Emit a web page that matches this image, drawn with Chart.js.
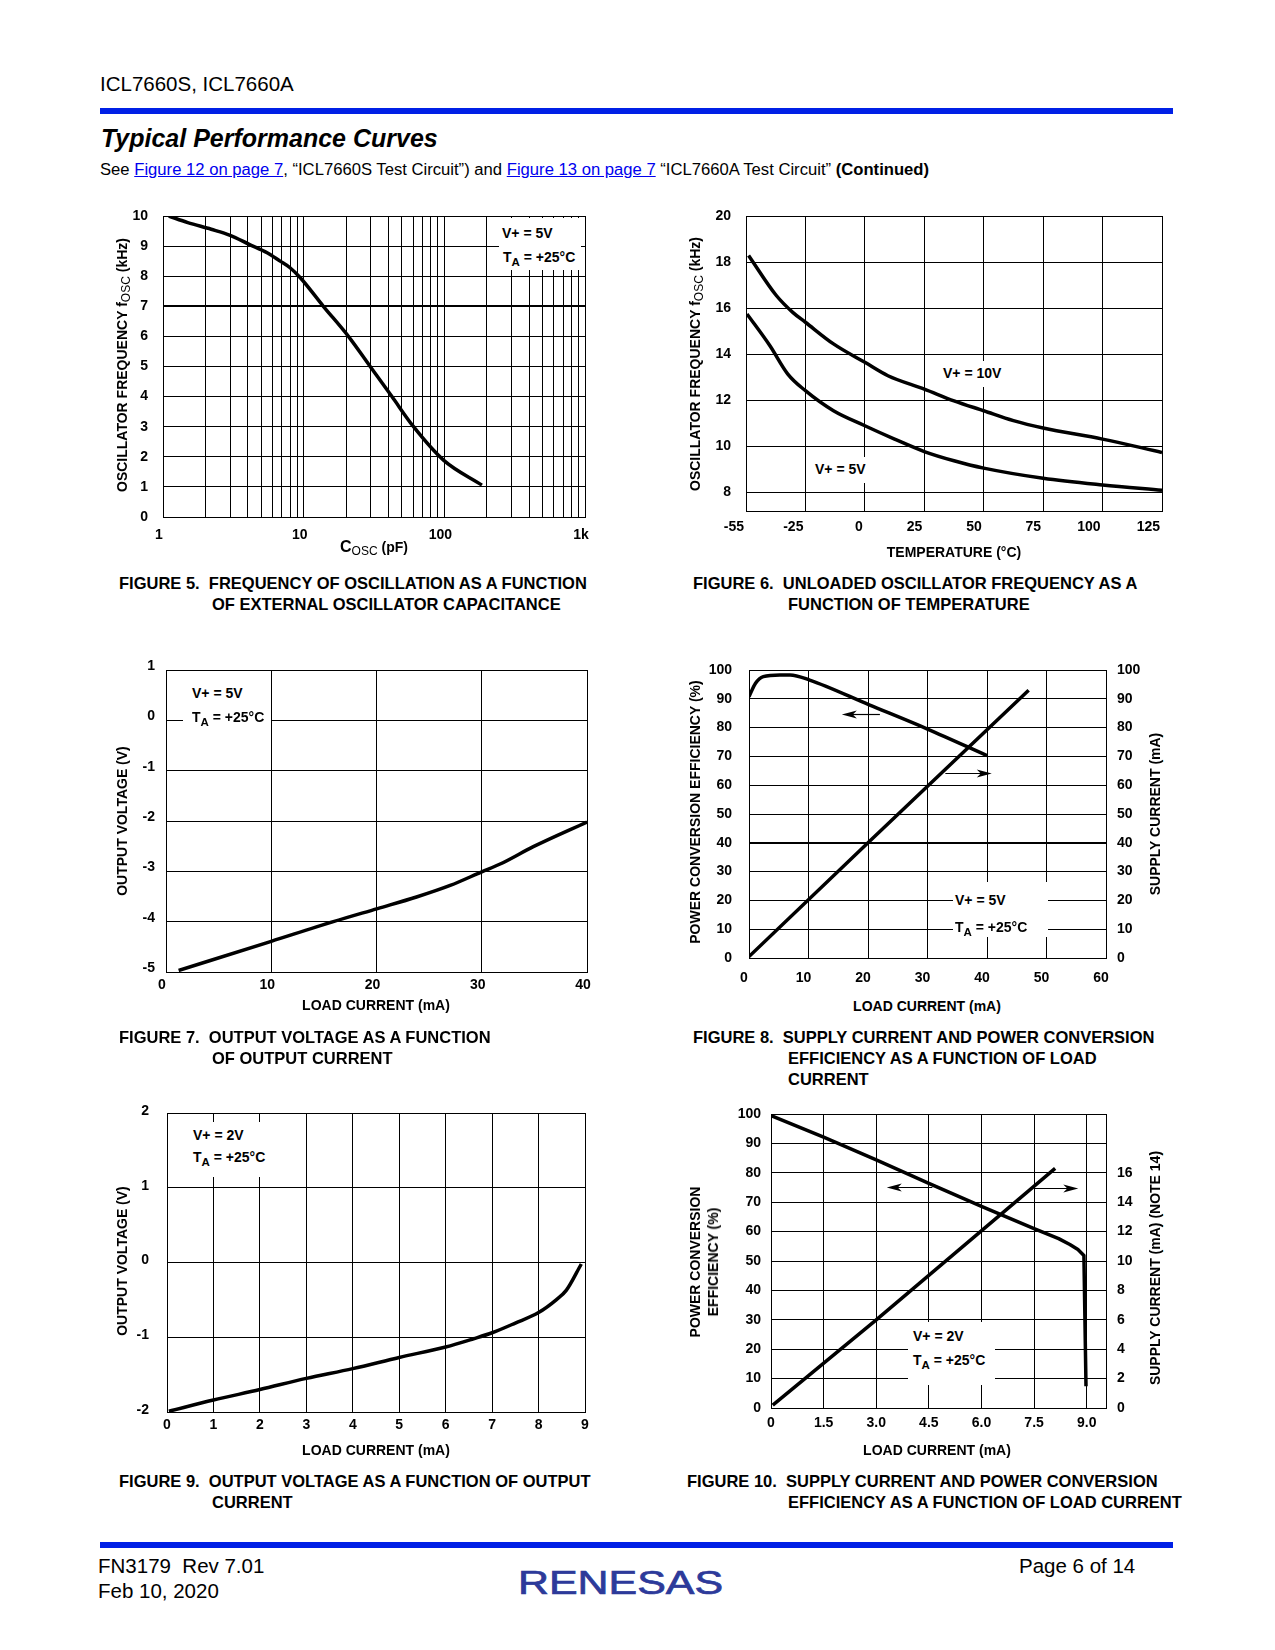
<!DOCTYPE html>
<html>
<head>
<meta charset="utf-8">
<title>ICL7660S, ICL7660A - Typical Performance Curves</title>
<script src="https://cdn.jsdelivr.net/npm/chart.js"></script>
<style>
  body { margin: 0; background: #fff; color: #000; font-family: "Liberation Sans", Arial, sans-serif; }
  #page { position: relative; width: 1275px; height: 1650px; overflow: hidden; }
  canvas { position: absolute; }
  .t { position: absolute; white-space: nowrap; transform: translateY(-50%); }
  .m { position: absolute; white-space: nowrap; transform: translate(-50%, -50%); }
  .v { position: absolute; white-space: nowrap; transform: translate(-50%, -50%) rotate(-90deg); }
  .b { font-weight: bold; font-size: 14px; }
  .cap { font-weight: bold; font-size: 16.5px; }
  .bar { position: absolute; left: 100px; width: 1073px; height: 6px; background: #0020e6; }
  .note { position: absolute; background: #fff; }
  .sb { font-size: 11.5px; position: relative; top: 4px; }
  .so { font-size: 12px; font-weight: normal; position: relative; top: 3px; }
  .a { color: #0000ee; }
  .logo { font-size: 33px; color: #2d3a9a; -webkit-text-stroke: 0.7px #2d3a9a;
          transform: translateY(-50%) scaleX(1.3); transform-origin: left center; }
</style>
</head>
<body>
<div id="page">
  <div class="t" style="left:100px;top:84px;font-size:20.5px">ICL7660S, ICL7660A</div>
  <div class="bar" style="top:108px"></div>
  <div class="t" style="left:101px;top:138px;font-size:25px;font-weight:bold;font-style:italic">Typical Performance Curves</div>
  <div class="t" style="left:100px;top:170px;font-size:16.65px">See <u class="a">Figure 12 on page 7</u>, “ICL7660S Test Circuit”) and <u class="a">Figure 13 on page 7</u> “ICL7660A Test Circuit” <b>(Continued)</b></div>

  <canvas id="fig5"></canvas>
  <canvas id="fig6"></canvas>
  <canvas id="fig7"></canvas>
  <canvas id="fig8"></canvas>
  <canvas id="fig9"></canvas>
  <canvas id="fig10"></canvas>

  <!-- figure 5 -->
  <div class="v b" style="left:122px;top:365px">OSCILLATOR FREQUENCY f<span class="so">OSC</span> (kHz)</div>
  <div class="m b" style="left:374px;top:547px"><span style="font-size:16px">C</span><span class="so">OSC</span> (pF)</div>
  <div class="note" style="left:499px;top:218px;width:82px;height:52px"></div>
  <div class="t b" style="left:502px;top:233px">V+ = 5V</div>
  <div class="t b" style="left:503px;top:257px">T<span class="sb">A</span> = +25°C</div>
  <div class="t cap" style="left:119px;top:583px">FIGURE 5.&nbsp; FREQUENCY OF OSCILLATION AS A FUNCTION</div>
  <div class="t cap" style="left:212px;top:604px">OF EXTERNAL OSCILLATOR CAPACITANCE</div>

  <!-- figure 6 -->
  <div class="v b" style="left:695px;top:364px">OSCILLATOR FREQUENCY f<span class="so">OSC</span> (kHz)</div>
  <div class="m b" style="left:954px;top:552px">TEMPERATURE (°C)</div>
  <div class="note" style="left:938px;top:361px;width:70px;height:26px"></div>
  <div class="t b" style="left:943px;top:373px">V+ = 10V</div>
  <div class="note" style="left:810px;top:457px;width:60px;height:26px"></div>
  <div class="t b" style="left:815px;top:469px">V+ = 5V</div>
  <div class="t cap" style="left:693px;top:583px">FIGURE 6.&nbsp; UNLOADED OSCILLATOR FREQUENCY AS A</div>
  <div class="t cap" style="left:788px;top:604px">FUNCTION OF TEMPERATURE</div>

  <!-- figure 7 -->
  <div class="v b" style="left:122px;top:821px">OUTPUT VOLTAGE (V)</div>
  <div class="m b" style="left:376px;top:1005px">LOAD CURRENT (mA)</div>
  <div class="note" style="left:183px;top:676px;width:88px;height:50px"></div>
  <div class="t b" style="left:192px;top:693px">V+ = 5V</div>
  <div class="t b" style="left:192px;top:717px">T<span class="sb">A</span> = +25°C</div>
  <div class="t cap" style="left:119px;top:1037px">FIGURE 7.&nbsp; OUTPUT VOLTAGE AS A FUNCTION</div>
  <div class="t cap" style="left:212px;top:1058px">OF OUTPUT CURRENT</div>

  <!-- figure 8 -->
  <div class="v b" style="left:695px;top:812px">POWER CONVERSION EFFICIENCY (%)</div>
  <div class="v b" style="left:1155px;top:814px">SUPPLY CURRENT (mA)</div>
  <div class="m b" style="left:927px;top:1006px">LOAD CURRENT (mA)</div>
  <div class="note" style="left:953px;top:882px;width:95px;height:55px"></div>
  <div class="t b" style="left:955px;top:900px">V+ = 5V</div>
  <div class="t b" style="left:955px;top:927px">T<span class="sb">A</span> = +25°C</div>
  <div class="t cap" style="left:693px;top:1037px">FIGURE 8.&nbsp; SUPPLY CURRENT AND POWER CONVERSION</div>
  <div class="t cap" style="left:788px;top:1058px">EFFICIENCY AS A FUNCTION OF LOAD</div>
  <div class="t cap" style="left:788px;top:1079px">CURRENT</div>

  <!-- figure 9 -->
  <div class="v b" style="left:122px;top:1261px">OUTPUT VOLTAGE (V)</div>
  <div class="m b" style="left:376px;top:1450px">LOAD CURRENT (mA)</div>
  <div class="note" style="left:183px;top:1122px;width:89px;height:55px"></div>
  <div class="t b" style="left:193px;top:1135px">V+ = 2V</div>
  <div class="t b" style="left:193px;top:1157px">T<span class="sb">A</span> = +25°C</div>
  <div class="t cap" style="left:119px;top:1481px">FIGURE 9.&nbsp; OUTPUT VOLTAGE AS A FUNCTION OF OUTPUT</div>
  <div class="t cap" style="left:212px;top:1502px">CURRENT</div>

  <!-- figure 10 -->
  <div class="v b" style="left:695px;top:1262px">POWER CONVERSION</div>
  <div class="v b" style="left:713px;top:1262px">EFFICIENCY (%)</div>
  <div class="v b" style="left:1155px;top:1268px">SUPPLY CURRENT (mA) (NOTE 14)</div>
  <div class="m b" style="left:937px;top:1450px">LOAD CURRENT (mA)</div>
  <div class="note" style="left:908px;top:1322px;width:87px;height:63px"></div>
  <div class="t b" style="left:913px;top:1336px">V+ = 2V</div>
  <div class="t b" style="left:913px;top:1360px">T<span class="sb">A</span> = +25°C</div>
  <div class="t cap" style="left:687px;top:1481px">FIGURE 10.&nbsp; SUPPLY CURRENT AND POWER CONVERSION</div>
  <div class="t cap" style="left:788px;top:1502px">EFFICIENCY AS A FUNCTION OF LOAD CURRENT</div>

  <div class="bar" style="top:1542px"></div>
  <div class="t" style="left:98px;top:1566px;font-size:20.5px">FN3179&nbsp; Rev 7.01</div>
  <div class="t" style="left:98px;top:1591px;font-size:20.5px">Feb 10, 2020</div>
  <div class="t" style="left:1019px;top:1566px;font-size:20.5px">Page 6 of 14</div>
  <div class="t logo" style="left:518px;top:1583px">RENESAS</div>
</div>

<script>
// Figure 5: oscillator frequency vs external capacitance
const fig5Cap = [1.1, 1.5, 2.2, 3.0, 4.1, 5.5, 6.8, 8.0, 9.5, 13.8, 20.8, 29.7, 42.4, 60.4, 98.6, 185];
const fig5Freq = [10.0, 9.78, 9.56, 9.36, 9.06, 8.78, 8.5, 8.28, 7.94, 7.0, 6.0, 5.0, 4.0, 3.0, 1.89, 1.06];
const fig5XTicks = [1, 2, 3, 4, 5, 6, 7, 8, 9, 10, 20, 30, 40, 50, 60, 70, 80, 90,
                    100, 200, 300, 400, 500, 600, 700, 800, 900, 1000];
const fig5XMajor = [1, 10, 100, 1000];
const fig5XLabels = ['1', '10', '100', '1k'];
const fig5YTicks = [0, 1, 2, 3, 4, 5, 6, 7, 8, 9, 10];

// Figure 6: oscillator frequency vs temperature
const fig6TempTicks = [-55, -25, 0, 25, 50, 75, 100, 125];
const fig6YTicks = [8, 10, 12, 14, 16, 18, 20];
const fig6Temp10V = [-53.7, -39.7, -31.4, -25, -13.2, 0, 9.7, 25, 37.5, 50, 62.5, 75, 100, 125];
const fig6Freq10V = [18.29, 16.55, 15.82, 15.39, 14.45, 13.65, 13.07, 12.49, 11.98, 11.55, 11.12, 10.80, 10.32, 9.74];
const fig6Temp5V = [-54.5, -43, -33.9, -25, -13.2, 0, 12.5, 25, 37.5, 50, 75, 100, 125];
const fig6Freq5V = [15.75, 14.38, 13.14, 12.42, 11.55, 10.9, 10.32, 9.78, 9.38, 9.06, 8.62, 8.33, 8.10];

// Figure 7: output voltage vs output current (V+ = 5V)
const fig7Load = [1.2, 10, 15.9, 20.1, 23.8, 27, 30, 31.8, 34.9, 40];
const fig7Vout = [-4.97, -4.39, -4.0, -3.74, -3.51, -3.28, -3.01, -2.85, -2.51, -2.02];
const fig7XTicks = [0, 10, 20, 30, 40];
const fig7YTicks = [-5, -4, -3, -2, -1, 0, 1];

// Figure 8: efficiency and supply current vs load (V+ = 5V)
const fig8EffLoad = [0, 1.1, 2.4, 5.2, 6.9, 10.2, 20.2, 30, 40];
const fig8Eff = [90.75, 95.4, 97.7, 98.3, 98.3, 96.5, 87.9, 79.5, 70.3];
const fig8SupLoad = [0, 20, 47];
const fig8Supply = [0.5, 40, 93];
const fig8XTicks = [0, 10, 20, 30, 40, 50, 60];
const fig8YTicks = [0, 10, 20, 30, 40, 50, 60, 70, 80, 90, 100];

// Figure 9: output voltage vs output current (V+ = 2V)
const fig9Load = [0.04, 1, 2, 3, 4, 5, 6, 6.6, 7, 7.5, 8, 8.38, 8.6, 8.92];
const fig9Vout = [-1.99, -1.84, -1.70, -1.55, -1.42, -1.27, -1.13, -1.02, -0.94, -0.81, -0.67, -0.50, -0.37, -0.02];
const fig9XTicks = [0, 1, 2, 3, 4, 5, 6, 7, 8, 9];
const fig9YTicks = [-2, -1, 0, 1, 2];

// Figure 10: efficiency and supply current vs load (V+ = 2V)
const fig10EffLoad = [0.02, 1.5, 3.0, 4.5, 6.0, 7.5, 8.2, 8.52, 8.75, 8.92, 8.98];
const fig10Eff = [99.4, 92.1, 84.4, 76.4, 68.6, 61.0, 57.6, 55.6, 53.9, 51.9, 7.4];
const fig10SupLoad = [0.05, 3.0, 8.1];
const fig10Supply = [0.2, 6.0, 16.3];
const fig10XTicks = [0, 1.5, 3.0, 4.5, 6.0, 7.5, 9.0];
const fig10YTicks = [0, 10, 20, 30, 40, 50, 60, 70, 80, 90, 100];
const fig10Y2Ticks = [0, 2, 4, 6, 8, 10, 12, 14, 16];

// ---------------------------------------------------------------

const M = { l: 70, t: 15, r: 30, r2: 60, b: 35 };
const tickFont = { family: "'Liberation Sans', Arial, sans-serif", size: 14, weight: 'bold' };

// temperature axis of fig 6 has evenly spaced ticks that are not evenly spaced in value
const LinearScale = Chart.registry.getScale('linear');
class StepScale extends LinearScale {
  getPixelForValue(value) {
    const s = fig6TempTicks;
    let i = 0;
    while (i < s.length - 2 && value > s[i + 1]) i++;
    const f = (i + (value - s[i]) / (s[i + 1] - s[i])) / (s.length - 1);
    return this.getPixelForDecimal(f);
  }
  getValueForPixel(pixel) {
    const s = fig6TempTicks;
    const f = this.getDecimalForPixel(pixel) * (s.length - 1);
    const i = Math.max(0, Math.min(s.length - 2, Math.floor(f)));
    return s[i] + (f - i) * (s[i + 1] - s[i]);
  }
}
StepScale.id = 'step';
StepScale.defaults = LinearScale.defaults;
Chart.register(StepScale);

const arrowPlugin = {
  id: 'arrows',
  afterDatasetsDraw(chart, args, opts) {
    const ctx = chart.ctx;
    (opts.list || []).forEach(a => {
      const xs = chart.scales.x, ys = chart.scales.y;
      const x0 = xs.getPixelForValue(a.from), x1 = xs.getPixelForValue(a.to);
      const y = Math.round(ys.getPixelForValue(a.y)) + 0.5;
      const dir = x1 > x0 ? 1 : -1;
      ctx.save();
      ctx.strokeStyle = '#000';
      ctx.fillStyle = '#000';
      ctx.lineWidth = 1.2;
      ctx.beginPath();
      ctx.moveTo(x0, y);
      ctx.lineTo(x1 - dir * 10, y);
      ctx.stroke();
      ctx.beginPath();
      ctx.moveTo(x1, y);
      ctx.lineTo(x1 - dir * 15, y - 4);
      ctx.lineTo(x1 - dir * 11, y);
      ctx.lineTo(x1 - dir * 15, y + 4);
      ctx.closePath();
      ctx.fill();
      ctx.restore();
    });
  }
};

function axis(o) {
  const pos = o.position;
  return {
    type: o.type || 'linear',
    position: pos,
    min: o.min,
    max: o.max,
    afterBuildTicks: s => { s.ticks = o.ticks.map(v => ({ value: v })); },
    afterFit: s => {
      if (pos === 'bottom') s.height = M.b;
      else s.width = pos === 'right' ? M.r2 : M.l;
      // keep the plot area exactly where the margins put it
      s.paddingTop = s.paddingBottom = s.paddingLeft = s.paddingRight = 0;
    },
    grid: {
      color: '#000',
      lineWidth: c => (c.tick && c.tick.value === o.heavy ? 2 : 1),
      drawTicks: false,
      drawOnChartArea: o.grid !== false
    },
    border: { color: '#000', width: 1 },
    ticks: {
      color: '#000', font: tickFont, padding: o.pad,
      align: o.align || 'center',
      labelOffset: o.lo || 0,
      autoSkip: false, maxRotation: 0, minRotation: 0,
      callback: o.fmt || (v => String(v))
    }
  };
}

function curve(xs, ys, axisId, smooth) {
  return {
    data: xs.map((x, i) => ({ x: x, y: ys[i] })),
    yAxisID: axisId || 'y',
    borderColor: '#000',
    borderWidth: 3.5,
    borderJoinStyle: 'round',
    pointRadius: 0,
    fill: false,
    tension: 0,
    cubicInterpolationMode: smooth ? 'monotone' : 'default'
  };
}

function makeChart(id, plot, dual, datasets, scales, arrows) {
  const c = document.getElementById(id);
  c.width = plot.r - plot.l + M.l + (dual ? M.r2 : M.r);
  c.height = plot.b - plot.t + M.t + M.b;
  c.style.left = (plot.l - M.l) + 'px';
  c.style.top = (plot.t - M.t) + 'px';
  return new Chart(c.getContext('2d'), {
    type: 'line',
    data: { datasets: datasets },
    options: {
      responsive: false,
      animation: false,
      devicePixelRatio: 1,
      events: [],
      layout: { padding: { top: M.t, right: dual ? 0 : M.r, left: 0, bottom: 0 } },
      plugins: { legend: { display: false }, tooltip: { enabled: false }, arrows: { list: arrows || [] } },
      scales: scales
    },
    plugins: [arrowPlugin]
  });
}

document.addEventListener('DOMContentLoaded', () => {
  makeChart('fig5', { l: 163, t: 216, r: 585, b: 517 }, false,
    [curve(fig5Cap, fig5Freq, 'y', true)],
    {
      x: axis({ type: 'logarithmic', position: 'bottom', min: 1, max: 1000, ticks: fig5XTicks, pad: 10, lo: -4,
                fmt: v => { const k = fig5XMajor.indexOf(v); return k < 0 ? '' : fig5XLabels[k]; } }),
      y: axis({ position: 'left', min: 0, max: 10, ticks: fig5YTicks, pad: 15, heavy: 7 })
    });

  makeChart('fig6', { l: 746, t: 216, r: 1162, b: 511 }, false,
    [curve(fig6Temp10V, fig6Freq10V, 'y', true), curve(fig6Temp5V, fig6Freq5V, 'y', true)],
    {
      x: axis({ type: 'step', position: 'bottom', min: -55, max: 125, ticks: fig6TempTicks, pad: 8, align: 'end', lo: -2 }),
      y: axis({ position: 'left', min: 7.2, max: 20, ticks: fig6YTicks, pad: 15 })
    });

  makeChart('fig7', { l: 166, t: 670, r: 587, b: 972 }, false,
    [curve(fig7Load, fig7Vout, 'y', true)],
    {
      x: axis({ position: 'bottom', min: 0, max: 40, ticks: fig7XTicks, pad: 5, lo: -4 }),
      y: axis({ position: 'left', min: -5, max: 1, ticks: fig7YTicks, pad: 11, lo: -4 })
    });

  makeChart('fig8', { l: 749, t: 670, r: 1106, b: 958 }, true,
    [curve(fig8EffLoad, fig8Eff, 'y', true), curve(fig8SupLoad, fig8Supply, 'y2', false)],
    {
      x: axis({ position: 'bottom', min: 0, max: 60, ticks: fig8XTicks, pad: 12, lo: -5 }),
      y: axis({ position: 'left', min: 0, max: 100, ticks: fig8YTicks, pad: 17, heavy: 40 }),
      y2: axis({ position: 'right', min: 0, max: 100, ticks: fig8YTicks, pad: 11, grid: false })
    },
    [{ from: 22.0, to: 15.6, y: 84.6 }, { from: 33.0, to: 40.8, y: 64.2 }]);

  makeChart('fig9', { l: 167, t: 1113, r: 585, b: 1412 }, false,
    [curve(fig9Load, fig9Vout, 'y', true)],
    {
      x: axis({ position: 'bottom', min: 0, max: 9, ticks: fig9XTicks, pad: 5 }),
      y: axis({ position: 'left', min: -2, max: 2, ticks: fig9YTicks, pad: 18, lo: -2 })
    });

  makeChart('fig10', { l: 771, t: 1114, r: 1106, b: 1408 }, true,
    [curve(fig10EffLoad, fig10Eff, 'y', false), curve(fig10SupLoad, fig10Supply, 'y2', false)],
    {
      x: axis({ position: 'bottom', min: 0, max: 9.55, ticks: fig10XTicks, pad: 7,
                fmt: v => (v === 0 ? '0' : v.toFixed(1)) }),
      y: axis({ position: 'left', min: 0, max: 100, ticks: fig10YTicks, pad: 10 }),
      y2: axis({ position: 'right', min: 0, max: 20, ticks: fig10Y2Ticks, pad: 11, grid: false })
    },
    [{ from: 4.6, to: 3.3, y: 75.3 }, { from: 7.52, to: 8.76, y: 75.0 }]);
});
</script>
</body>
</html>
